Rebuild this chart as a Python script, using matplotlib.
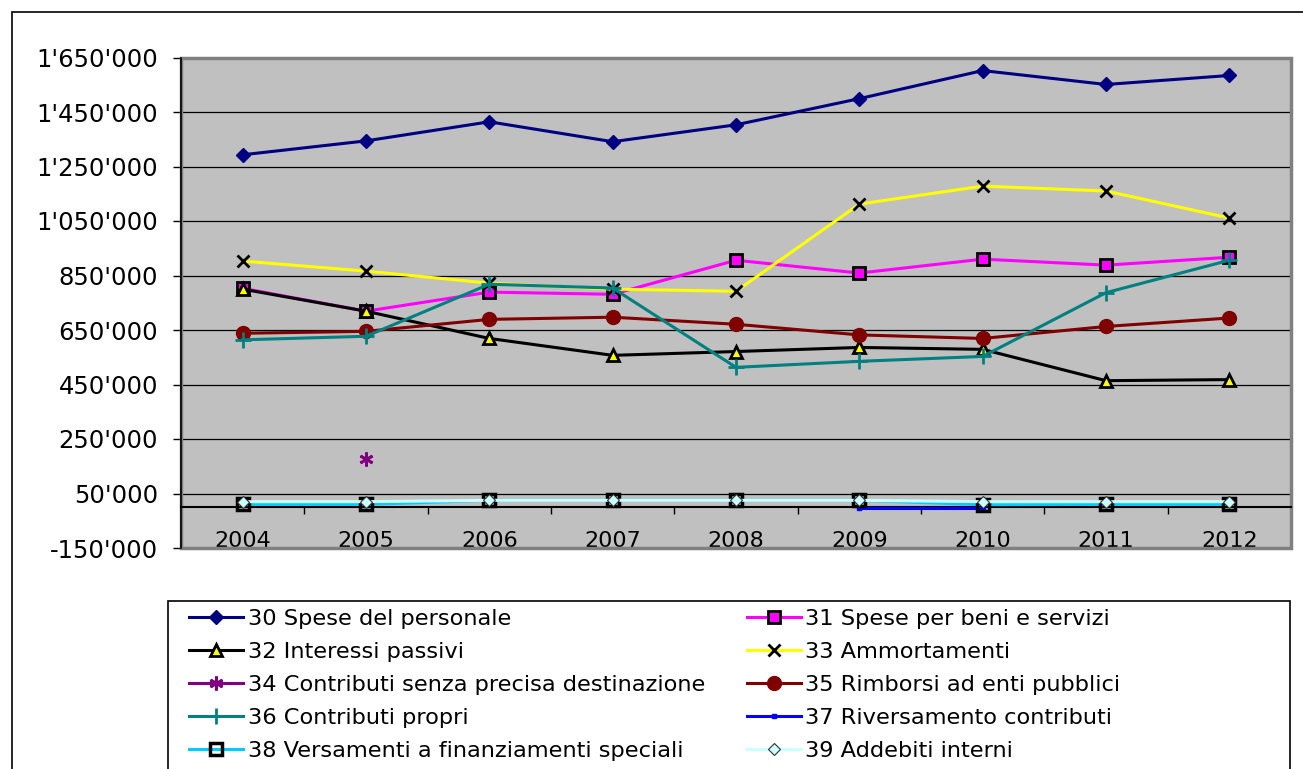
import matplotlib
matplotlib.use("Agg")
import matplotlib.pyplot as plt
import numpy as np
from matplotlib.patches import Rectangle
from matplotlib.ticker import FuncFormatter

years = ["2004", "2005", "2006", "2007", "2008", "2009", "2010", "2011", "2012"]

nan = np.nan
spese_personale = [1293000, 1344000, 1414000, 1341000, 1403000, 1499000, 1602000, 1551000, 1584000]
spese_beni_servizi = [803000, 719000, 789000, 781000, 906000, 859000, 910000, 888000, 917000]
interessi_passivi = [800000, 719000, 619000, 557000, 571000, 586000, 579000, 464000, 468000]
ammortamenti = [903000, 866000, 822000, 800000, 792000, 1112000, 1178000, 1160000, 1061000]
contributi_senza_dest = [nan, 176000, nan, nan, nan, nan, nan, nan, nan]
rimborsi_enti = [638000, 645000, 689000, 697000, 671000, 632000, 619000, 663000, 694000]
contributi_propri = [614000, 627000, 818000, 804000, 513000, 535000, 553000, 787000, 906000]
riversamento = [nan, nan, nan, nan, nan, -3000, -3000, nan, nan]
versamenti_fin = [10000, 10000, 25000, 25000, 25000, 25000, 9000, 10000, 10000]
addebiti_interni = [20000, 20000, 25000, 25000, 25000, 25000, 20000, 20000, 20000]

labels = [
    "30 Spese del personale",
    "31 Spese per beni e servizi",
    "32 Interessi passivi",
    "33 Ammortamenti",
    "34 Contributi senza precisa destinazione",
    "35 Rimborsi ad enti pubblici",
    "36 Contributi propri",
    "37 Riversamento contributi",
    "38 Versamenti a finanziamenti speciali",
    "39 Addebiti interni",
]

series = [
    (spese_personale, dict(color="#000080", marker="D", ms=7, mfc="#000080", mec="#000080")),
    (spese_beni_servizi, dict(color="#FF00FF", marker="s", ms=9, mfc="#FF00FF", mec="black", mew=2)),
    (interessi_passivi, dict(color="black", marker="^", ms=9, mfc="#FFFF00", mec="black", mew=2)),
    (ammortamenti, dict(color="#FFFF00", marker="x", ms=9, mec="black", mew=2)),
    (contributi_senza_dest, dict(color="#800080", marker=(6, 2, 0), ms=10, mec="#800080", mew=2)),
    (rimborsi_enti, dict(color="#800000", marker="o", ms=10, mfc="#800000", mec="#800000")),
    (contributi_propri, dict(color="#008080", marker="+", ms=11, mec="#008080", mew=2)),
    (riversamento, dict(color="#0000FF", marker="s", ms=3, mfc="#0000FF", mec="#0000FF")),
    (versamenti_fin, dict(color="#00CCFF", marker="s", ms=9, mfc="none", mec="black", mew=2.5)),
    (addebiti_interni, dict(color="#CCFFFF", marker="D", ms=6, mfc="#CCFFFF", mec="#303030", mew=0.8)),
]

W, H = 1303, 769
fig = plt.figure(figsize=(W / 100, H / 100), dpi=100)
fig.patch.set_facecolor("white")

ax = fig.add_axes([181 / W, 1 - 548 / H, (1291 - 181) / W, (548 - 57.5) / H])
ax.set_facecolor("#C0C0C0")
ax.set_xlim(-0.5, 8.5)
ax.set_ylim(-150000, 1650000)

x = np.arange(len(years))
handles = []
for (vals, style), lab in zip(series, labels):
    h, = ax.plot(x, vals, lw=2.2, label=lab, zorder=3, clip_on=False, **style)
    handles.append(h)

# y axis
ax.set_yticks(np.arange(-150000, 1650001, 200000))
ax.yaxis.set_major_formatter(FuncFormatter(lambda v, p: f"{int(round(v)):,}".replace(",", "'")))
ax.tick_params(axis="y", direction="out", length=6, width=1, pad=10.5, labelsize=17.5, colors="black")
ax.yaxis.grid(True, color="black", lw=0.9)
ax.set_axisbelow(True)

# x axis crossing at zero
ax.spines["bottom"].set_position(("data", 0))
ax.spines["bottom"].set_linewidth(1.5)
ax.spines["left"].set_linewidth(1.2)
ax.spines["top"].set_visible(False)
ax.spines["right"].set_visible(False)
ax.set_xticks(np.arange(-0.5, 9, 1))
ax.set_xticks(x, minor=True)
ax.set_xticklabels(years, minor=True)
ax.tick_params(axis="x", which="major", direction="out", length=5, width=1, labelbottom=False)
ax.tick_params(axis="x", which="minor", length=0, pad=17, labelsize=16)

# plot area border
ax.add_patch(Rectangle((0, 0), 1, 1, transform=ax.transAxes, fill=False,
                       ec="#808080", lw=2.5, zorder=2.4, clip_on=False))

# outer chart frame and legend frame
fig.add_artist(Rectangle((12 / W, -0.1), 1.2, 1 - 12 / H + 0.1, transform=fig.transFigure,
                         fill=False, ec="black", lw=1.2))
fig.add_artist(Rectangle((168 / W, -0.1), (1290 - 168) / W, 1 - 601 / H + 0.1,
                         transform=fig.transFigure, fill=False, ec="black", lw=1.2))

order = [0, 2, 4, 6, 8, 1, 3, 5, 7, 9]
fig.legend([handles[i] for i in order], [labels[i] for i in order], ncol=2,
           loc="upper left", bbox_to_anchor=(189 / W, 1 - 609 / H), bbox_transform=fig.transFigure,
           frameon=False, fontsize=16.2, handlelength=2.4, handletextpad=0.2,
           labelspacing=0.58, columnspacing=1.85, borderpad=0, borderaxespad=0)

fig.savefig("out.png", dpi=100)
